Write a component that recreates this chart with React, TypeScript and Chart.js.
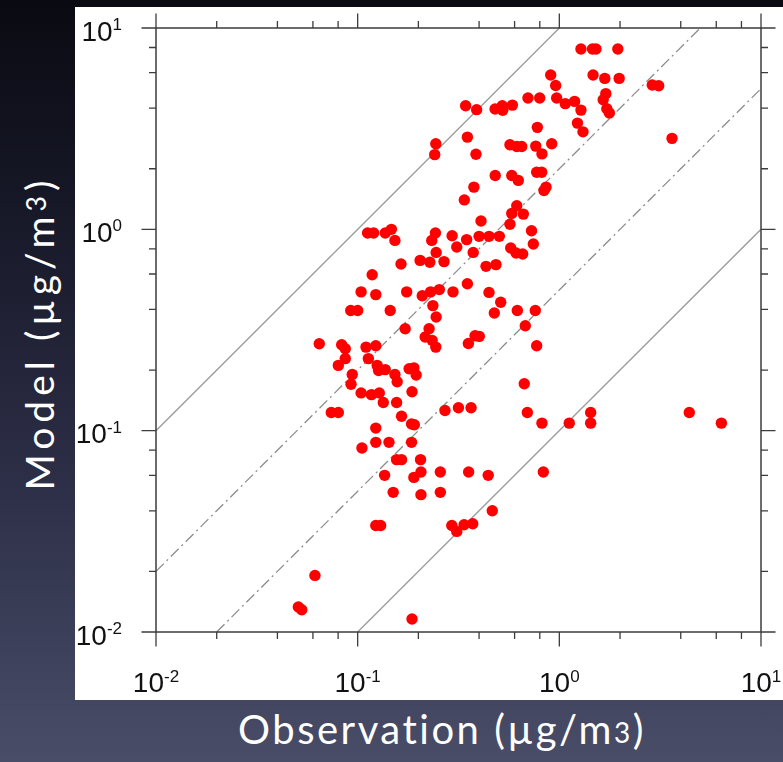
import React, { useEffect, useRef } from "react";
import { Chart, registerables } from "chart.js";

Chart.register(...registerables);

// Observation (x) and Model (y) concentrations, µg/m3
const observation = [
  0.343, 0.389, 0.244, 0.241, 0.350, 0.386, 0.377, 0.338, 0.409, 1.28,
  1.46, 1.52, 1.95, 0.906, 0.959, 1.47, 1.68, 1.98, 2.89, 3.11,
  0.699, 0.799, 0.970, 1.07, 1.19, 1.28, 1.70, 1.65, 1.72, 1.77,
  1.23, 1.31, 3.62, 0.480, 0.521, 0.524, 0.585, 0.778, 0.569, 0.615,
  0.651, 0.764, 0.820, 0.917, 0.481, 0.581, 0.626, 0.772, 0.818, 0.839,
  0.859, 0.615, 0.581, 0.663, 0.569, 0.728, 0.112, 0.120, 0.137, 0.147,
  0.153, 0.243, 0.233, 0.245, 0.294, 0.310, 0.347, 0.374, 0.400, 0.204,
  0.228, 0.268, 0.164, 0.118, 0.104, 0.123, 0.175, 0.209, 0.230, 0.254,
  0.297, 0.350, 0.236, 0.245, 0.0924, 0.100, 0.145, 0.172, 0.226, 0.216,
  0.234, 0.244, 0.382, 0.354, 0.0645, 0.0833, 0.0868, 0.110, 0.123, 0.0868,
  0.0802, 0.113, 0.125, 0.127, 0.137, 0.180, 0.190, 0.195, 0.153, 0.157,
  0.0940, 0.0927, 0.104, 0.117, 0.128, 0.134, 0.156, 0.186, 0.0740, 0.0802,
  0.165, 0.271, 0.316, 0.365, 0.743, 0.448, 0.504, 0.574, 0.610, 0.658,
  0.433, 0.485, 0.448, 0.512, 0.476, 0.619, 0.760, 0.678, 0.401, 0.772,
  0.670, 0.694, 0.820, 1.12, 1.43, 1.43, 4.41, 6.36, 0.123, 0.185,
  0.191, 0.105, 0.123, 0.143, 0.185, 0.156, 0.165, 0.205, 0.136, 0.190,
  0.206, 0.257, 0.355, 0.150, 0.206, 0.257, 0.123, 0.130, 0.293, 0.310,
  0.337, 0.372, 0.0614, 0.0508, 0.0528, 0.186, 0.444, 0.833, 0.465,
];

const model = [
  4.11, 3.93, 2.66, 2.35, 2.87, 2.36, 1.62, 1.40, 1.10, 7.86,
  7.86, 7.86, 7.86, 5.84, 5.18, 5.84, 5.62, 5.62, 5.21, 5.17,
  4.49, 4.49, 4.49, 4.21, 4.32, 3.91, 4.72, 4.40, 3.97, 3.78,
  3.37, 3.05, 2.83, 3.96, 4.11, 3.90, 4.14, 3.21, 2.63, 2.58,
  2.58, 2.59, 2.37, 2.66, 1.85, 1.85, 1.75, 1.92, 1.92, 1.56,
  1.62, 1.31, 1.20, 1.19, 1.06, 0.984, 0.959, 0.959, 0.959, 1.00,
  0.881, 0.959, 0.881, 0.768, 0.930, 0.817, 0.889, 0.768, 0.923, 0.701,
  0.686, 0.691, 0.673, 0.595, 0.489, 0.474, 0.489, 0.468, 0.489, 0.502,
  0.489, 0.537, 0.418, 0.367, 0.395, 0.395, 0.395, 0.321, 0.321, 0.292,
  0.281, 0.260, 0.296, 0.271, 0.270, 0.267, 0.255, 0.260, 0.264, 0.228,
  0.211, 0.228, 0.211, 0.199, 0.201, 0.203, 0.205, 0.189, 0.190, 0.175,
  0.190, 0.170, 0.154, 0.151, 0.154, 0.138, 0.138, 0.156, 0.123, 0.123,
  0.118, 0.126, 0.130, 0.130, 0.846, 0.923, 0.923, 0.808, 0.763, 0.754,
  0.655, 0.668, 0.486, 0.434, 0.384, 0.395, 0.395, 0.332, 0.294, 0.264,
  0.171, 0.123, 0.109, 0.109, 0.123, 0.109, 0.123, 0.109, 0.103, 0.108,
  0.107, 0.0820, 0.0875, 0.0875, 0.0875, 0.0718, 0.0718, 0.0718, 0.0600, 0.0586,
  0.0623, 0.0623, 0.0623, 0.0494, 0.0481, 0.0494, 0.0338, 0.0338, 0.0338, 0.0316,
  0.0341, 0.0345, 0.0191, 0.0133, 0.0129, 0.0116, 0.0600, 0.0623, 0.0400,
];

const axisMin = 0.01;
const axisMax = 10;
const decadeTicks = [0.01, 0.1, 1, 10];
const decadeExponents = ["-2", "-1", "0", "1"];
const minorFactors = [2, 4, 6, 8];
const ratioFactors = [10, 2, 0.5, 0.1];
const ratioDashed = [false, true, true, false];

const xTitle = "Observation (\u00B5g/m";
const yTitle = "Model (\u00B5g/m";

const nclFrame = {
  id: "nclFrame",
  afterDraw(chart: any) {
    const { ctx, chartArea: a } = chart;
    const xs = chart.scales.x;
    const ys = chart.scales.y;
    ctx.save();
    ctx.strokeStyle = "#3c3c3c";
    ctx.lineWidth = 1.5;
    ctx.strokeRect(a.left, a.top, a.right - a.left, a.bottom - a.top);

    const ticks: { v: number; major: boolean }[] = [];
    decadeTicks.forEach((d, i) => {
      ticks.push({ v: d, major: true });
      if (i < decadeTicks.length - 1) minorFactors.forEach((m) => ticks.push({ v: d * m, major: false }));
    });
    ctx.lineWidth = 1.3;
    ctx.beginPath();
    for (const t of ticks) {
      const len = t.major ? 14.5 : 7;
      const px = xs.getPixelForValue(t.v);
      const py = ys.getPixelForValue(t.v);
      ctx.moveTo(px, a.bottom);
      ctx.lineTo(px, a.bottom + len);
      ctx.moveTo(px, a.top);
      ctx.lineTo(px, a.top - len);
      ctx.moveTo(a.left, py);
      ctx.lineTo(a.left - len, py);
      ctx.moveTo(a.right, py);
      ctx.lineTo(a.right + len, py);
    }
    ctx.stroke();

    const big = '28px "Liberation Sans", Arial, sans-serif';
    const small = '17px "Liberation Sans", Arial, sans-serif';
    ctx.fillStyle = "#111";
    ctx.textBaseline = "alphabetic";
    ctx.textAlign = "left";
    decadeTicks.forEach((d, i) => {
      const exp = decadeExponents[i];
      ctx.font = big;
      const wb = ctx.measureText("10").width;
      ctx.font = small;
      const ws = ctx.measureText(exp).width;

      const px = xs.getPixelForValue(d);
      const bx = px - (wb + ws) / 2;
      const by = a.bottom + 60;
      ctx.font = big;
      ctx.fillText("10", bx, by);
      ctx.font = small;
      ctx.fillText(exp, bx + wb, by - 10.5);

      const py = ys.getPixelForValue(d);
      const right = a.left - 34;
      const lx = right - wb - ws;
      const ly = py + 12.5;
      ctx.font = big;
      ctx.fillText("10", lx, ly);
      ctx.font = small;
      ctx.fillText(exp, lx + wb, ly - 10.5);
    });
    ctx.restore();
  },
};

export default function App() {
  const canvasRef = useRef<HTMLCanvasElement | null>(null);

  useEffect(() => {
    if (!canvasRef.current) return;
    const lineSets = ratioFactors.map((k, i) => {
      const x0 = Math.max(axisMin, axisMin / k);
      const x1 = Math.min(axisMax, axisMax / k);
      return {
        data: [
          { x: x0, y: x0 * k },
          { x: x1, y: x1 * k },
        ],
        showLine: true,
        pointRadius: 0,
        borderColor: ratioDashed[i] ? "#8c8c8c" : "#9a9a9a",
        borderWidth: 1.3,
        borderDash: ratioDashed[i] ? [11, 4, 2, 4] : [],
        fill: false,
        order: 1,
      };
    });
    const chart = new Chart(canvasRef.current, {
      type: "scatter",
      data: {
        datasets: [
          {
            data: observation.map((x, i) => ({ x, y: model[i] })),
            pointRadius: 5.7,
            pointHoverRadius: 5.7,
            backgroundColor: "#ff0000",
            borderWidth: 0,
            order: 0,
          } as any,
          ...lineSets,
        ],
      },
      options: {
        responsive: false,
        animation: false,
        devicePixelRatio: 1,
        layout: { padding: { left: 81, right: 22, top: 21, bottom: 68 } },
        plugins: { legend: { display: false }, tooltip: { enabled: false } },
        scales: {
          x: { type: "logarithmic", min: axisMin, max: axisMax, display: false },
          y: { type: "logarithmic", min: axisMin, max: axisMax, display: false },
        },
      },
      plugins: [nclFrame],
    });
    return () => chart.destroy();
  }, []);

  return (
    <div
      style={{
        position: "fixed",
        left: 0,
        top: 0,
        width: 783,
        height: 762,
        overflow: "hidden",
        background: "linear-gradient(180deg, #0a0a12 0%, #1a1b2c 33%, #2e3049 65%, #494d67 100%)",
        fontFamily: "Lato, 'Open Sans', sans-serif",
      }}
    >
      <div style={{ position: "absolute", left: 75, top: 7, width: 708, height: 693, background: "#ffffff" }}>
        <canvas ref={canvasRef} width={708} height={693} style={{ display: "block" }} />
      </div>
      <div
        style={{
          position: "absolute",
          left: 442,
          top: 709,
          transform: "translateX(-50%)",
          color: "#ffffff",
          fontSize: 40,
          lineHeight: "40px",
          whiteSpace: "nowrap",
          letterSpacing: 2.5,
        }}
      >
        {xTitle}
        <span style={{ fontSize: "0.7em", verticalAlign: "0.03em" }}>3</span>)
      </div>
      <div
        style={{
          position: "absolute",
          left: 37.5,
          top: 333,
          transform: "translate(-50%, -50%) rotate(-90deg)",
          color: "#ffffff",
          fontSize: 39,
          lineHeight: "39px",
          whiteSpace: "nowrap",
          letterSpacing: 5,
        }}
      >
        {yTitle}
        <span style={{ fontSize: "0.68em", verticalAlign: "0.27em" }}>3</span>)
      </div>
    </div>
  );
}
